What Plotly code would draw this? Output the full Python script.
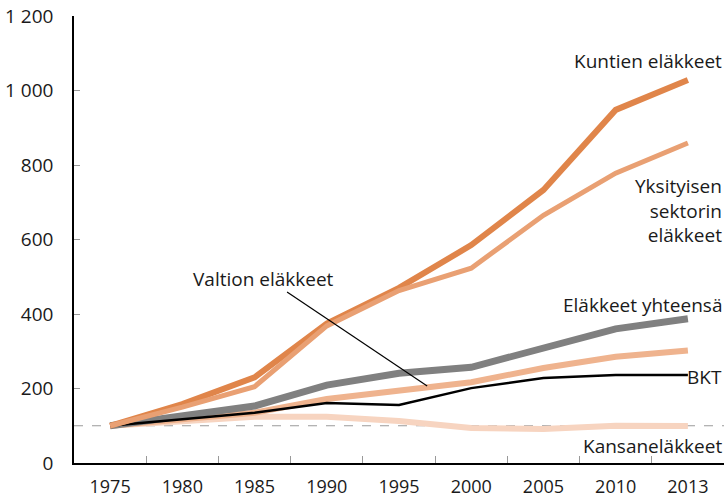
import plotly.graph_objects as go

years = ["1975", "1980", "1985", "1990", "1995", "2000", "2005", "2010", "2013"]
kuntien = [100, 158, 230, 374, 470, 585, 733, 948, 1028]
yksityisen = [100, 150, 205, 368, 463, 523, 665, 778, 859]
yhteensa = [100, 127, 153, 209, 241, 257, 308, 360, 387]
valtion = [100, 118, 135, 172, 196, 217, 255, 285, 302]
bkt = [100, 118, 135, 161, 156, 201, 228, 236, 236]
kansan = [100, 110, 124, 124, 113, 94, 91, 100, 99]

y_tickvals = [0, 200, 400, 600, 800, 1000, 1200]
y_ticktext = ["0", "200", "400", "600", "800", "1 000", "1 200"]

FONT = "Open Sans"

fig = go.Figure()

fig.add_hline(y=100, line=dict(color="#9a9a9a", width=1, dash="dash"), layer="below")

series = [
    ("Kansaneläkkeet", kansan, "#f7d4c0", 6),
    ("Valtion eläkkeet", valtion, "#efb38e", 6),
    ("Eläkkeet yhteensä", yhteensa, "#808080", 7),
    ("BKT", bkt, "#000000", 2.5),
    ("Kuntien eläkkeet", kuntien, "#e0854a", 6),
    ("Yksityisen sektorin eläkkeet", yksityisen, "#e9a073", 5),
]
for name, vals, color, w in series:
    fig.add_trace(go.Scatter(x=years, y=vals, mode="lines", name=name,
                             line=dict(color=color, width=w),
                             hoverinfo="x+y+name"))

ann_font = dict(family=FONT, size=19, color="#1a1a1a")
annotations = [
    dict(x=1, y=1078, xref="paper", text="Kuntien eläkkeet", xanchor="right"),
    dict(x=1, y=679, xref="paper", text="Yksityisen<br>sektorin<br>eläkkeet", align="right", xanchor="right"),
    dict(x=1, y=425, xref="paper", text="Eläkkeet yhteensä", xanchor="right"),
    dict(x=1, y=231, xref="paper", text="BKT", xanchor="right"),
    dict(x=1, y=45, xref="paper", text="Kansaneläkkeet", xanchor="right"),
    dict(x=2.12, y=493, xref="x", text="Valtion eläkkeet", xanchor="center"),
]
for a in annotations:
    a.update(showarrow=False, font=ann_font, yref="y", yanchor="middle")
fig.update_layout(annotations=annotations)

fig.add_shape(type="line", xref="x", yref="y", x0=2.45, y0=459, x1=4.39, y1=207,
              line=dict(color="#000000", width=1.2))

fig.update_layout(
    width=727, height=499,
    margin=dict(l=74, r=3, t=16, b=36),
    paper_bgcolor="white", plot_bgcolor="white",
    showlegend=False,
    font=dict(family=FONT, size=18, color="#1a1a1a"),
    xaxis=dict(type="category", tickson="boundaries", ticks="inside", ticklen=7,
               tickcolor="#999999", tickwidth=1, showline=True, linecolor="#000000",
               linewidth=1.5, showgrid=False, zeroline=False, range=[-0.5, 8.5],
               ticklabelstandoff=7, automargin=False,
               tickfont=dict(family=FONT, size=18, color="#1a1a1a")),
    yaxis=dict(range=[0, 1200], tickvals=y_tickvals, ticktext=y_ticktext,
               ticks="inside", ticklen=6, tickcolor="#999999", tickwidth=1,
               showline=True, linecolor="#000000", linewidth=1.5,
               showgrid=False, zeroline=False, ticklabelstandoff=15, automargin=False,
               tickfont=dict(family=FONT, size=19, color="#1a1a1a")),
)

fig.write_html("out.html", config={"displayModeBar": False},
               post_script="document.body.style.margin='0px';document.body.style.overflow='hidden';")
